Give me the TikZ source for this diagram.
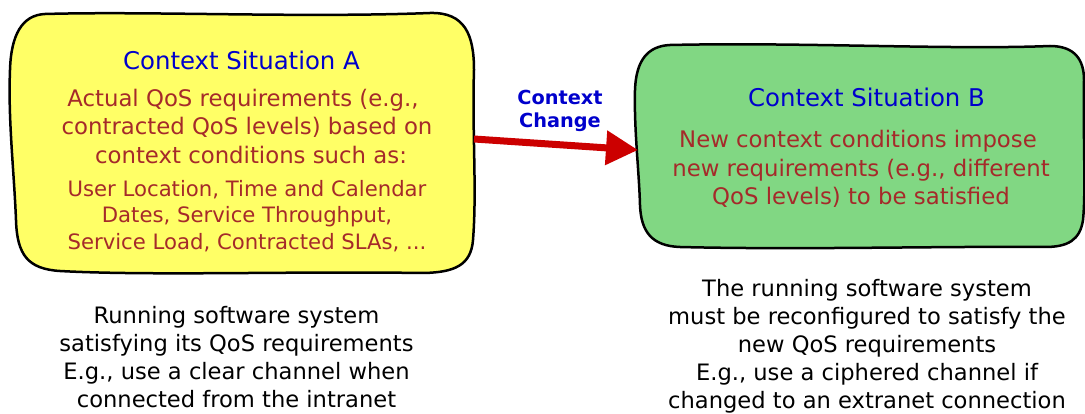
\documentclass[tikz,border=0pt]{standalone}
\usepackage{fontspec}
\setmainfont{DejaVu Sans}
\usetikzlibrary{arrows.meta, positioning}
\definecolor{titleblue}{RGB}{0,0,204}
\definecolor{reqred}{RGB}{165,42,42}
\definecolor{boxyellow}{RGB}{255,255,102}
\definecolor{boxgreen}{RGB}{129,215,131}
\definecolor{arrowred}{RGB}{204,0,0}

\begin{document}
\begin{tikzpicture}[x=1pt,y=-1pt,
 sketchy/.style={draw=black,line width=2.5pt,line join=round},
 title text/.style={text=titleblue,inner sep=0pt,font=\fontsize{24.4}{29}\selectfont},
 req text/.style={text=reqred,align=center,inner sep=0pt,font=\fontsize{22.8}{28.5}\selectfont},
 cond text/.style={text=reqred,align=center,inner sep=0pt,font=\fontsize{21.2}{26.5}\selectfont},
 note text/.style={text=black,align=center,inner sep=0pt,font=\fontsize{22.6}{28}\selectfont},
 change text/.style={text=titleblue,align=center,inner sep=0pt,font=\fontsize{19.3}{23}\selectfont\bfseries}]
  \useasboundingbox (0,0) rectangle (1085,414);

  % situation A
  \draw[sketchy, fill=boxyellow]
    (45,14) .. controls (150,11) and (300,18) .. (430,13)
    .. controls (465,12) and (474,35) .. (474,70)
    .. controls (472,130) and (477,190) .. (473,240)
    .. controls (471,265) and (455,273) .. (420,273)
    .. controls (300,271) and (150,276) .. (60,271)
    .. controls (28,269) and (17,255) .. (16,220)
    .. controls (14,170) and (8,120) .. (10,70)
    .. controls (11,35) and (22,15) .. cycle;
  \coordinate (sitA) at (474,139);

  % situation B
  \draw[sketchy, fill=boxgreen]
    (670,45) .. controls (800,42) and (950,50) .. (1050,46)
    .. controls (1075,46) and (1084,60) .. (1084,80)
    .. controls (1083,140) and (1086,190) .. (1083,220)
    .. controls (1080,240) and (1068,247) .. (1045,247)
    .. controls (950,246) and (800,250) .. (680,247)
    .. controls (652,246) and (641,232) .. (640,205)
    .. controls (639,170) and (634,130) .. (635,90)
    .. controls (636,60) and (648,46) .. cycle;
  \coordinate (sitB) at (638,150);

  \node[title text] (titleA) at (241.5,60) {Context Situation A};
  \node[req text] (reqA) at (247,126.2) {Actual QoS requirements (e.g.,\hspace*{8pt}\\contracted QoS levels) based on\\\hspace*{8pt}context conditions such as:};
  \node[cond text] (condA) at (247,216) {User Location, Time and Calendar\\Dates, Service Throughput,\\Service Load, Contracted SLAs, ...};

  \node[title text] (titleB) at (866.5,97) {Context Situation B};
  \node[req text] (reqB) at (861,169.3) {New context conditions impose\hspace*{6pt}\\new requirements (e.g., different\\QoS levels) to be satisfied};

  \node[change text] (change) at (560,111.3) {Context\\Change};
  \draw[arrowred, line width=7pt, -{Triangle[length=32pt,width=33pt]}] (sitA) -- (sitB);

  \node[note text] (noteA) at (236.5,356.8) {Running software system\\satisfying its QoS requirements\\E.g., use a clear channel when\\connected from the intranet};
  \node[note text] (noteB) at (867,346) {The running software system\\must be reconfigured to satisfy the\\new QoS requirements\\E.g., use a ciphered channel if\\changed to an extranet connection};
\end{tikzpicture}
\end{document}
